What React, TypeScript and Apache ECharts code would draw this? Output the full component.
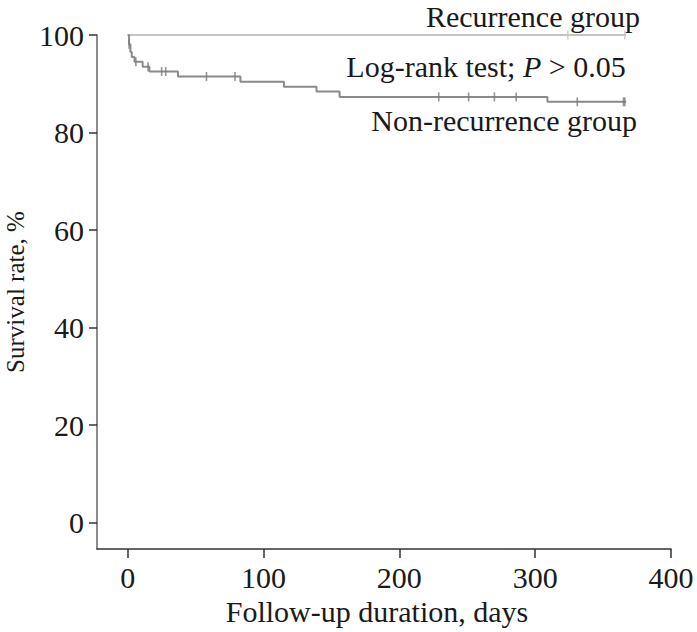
import React, { useEffect, useRef } from "react";
import * as echarts from "echarts";

// Non-recurrence group: event times (days) and survival (%) after each drop
const nonRecTimes = [0, 1, 2, 3, 5, 11, 16, 37, 83, 115, 139, 156, 309];
const nonRecSurv = [100, 98.1, 96.5, 95.5, 94.5, 93.5, 92.5, 91.5, 90.4, 89.4, 88.4, 87.3, 86.3];
const nonRecEnd = 367;
const nonRecCensor = [1, 6, 15, 25, 28, 58, 79, 229, 251, 270, 286, 331, 365, 366];

// Recurrence group
const recTimes = [0];
const recSurv = [100];
const recEnd = 367;
const recCensor = [324, 366];

const xTicks = [0, 100, 200, 300, 400];
const yTicks = [0, 20, 40, 60, 80, 100];

function kmPath(times: number[], surv: number[], end: number) {
  const pts: number[][] = [];
  for (let i = 0; i < times.length; i++) {
    if (i > 0) pts.push([times[i], surv[i - 1]]);
    pts.push([times[i], surv[i]]);
  }
  pts.push([end, surv[surv.length - 1]]);
  return pts;
}

function survAt(times: number[], surv: number[], t: number) {
  let s = surv[0];
  for (let i = 0; i < times.length; i++) if (times[i] <= t) s = surv[i];
  return s;
}

const FONT = "'Liberation Serif', 'Times New Roman', serif";
const FS = 30;

export default function App() {
  const ref = useRef<HTMLDivElement>(null);
  useEffect(() => {
    if (!ref.current) return;
    const chart = echarts.init(ref.current, undefined, { renderer: "svg" });
    const nonRecColor = "#8a8a8a";
    const recColor = "#c4c4c4";
    chart.setOption({
      animation: false,
      backgroundColor: "#ffffff",
      grid: {
        left: 97,
        right: 26,
        top: 35,
        bottom: 83,
        containLabel: false,
        outerBoundsMode: "none",
      },
      xAxis: {
        type: "value",
        min: -22.6,
        max: 400,
        name: "Follow-up duration, days",
        nameLocation: "middle",
        nameGap: 45,
        nameTextStyle: { fontFamily: FONT, fontSize: FS, color: "#1a1a1a", padding: [0, 14, 0, 0] },
        axisLine: { show: true, onZero: false, lineStyle: { color: "#333", width: 1.5 } },
        axisTick: { show: true, length: 9, customValues: xTicks, lineStyle: { color: "#333", width: 1.5 } },
        axisLabel: { customValues: xTicks, fontFamily: FONT, fontSize: FS, color: "#1a1a1a", margin: 13 },
        splitLine: { show: false },
      },
      yAxis: {
        type: "value",
        min: -5.4,
        max: 100,
        name: "Survival rate, %",
        nameLocation: "middle",
        nameGap: 69,
        nameTextStyle: { fontFamily: FONT, fontSize: 25, color: "#1a1a1a" },
        axisLine: { show: true, onZero: false, lineStyle: { color: "#666", width: 1.5 } },
        axisTick: { show: true, length: 8, customValues: yTicks, lineStyle: { color: "#333", width: 1.5 } },
        axisLabel: { customValues: yTicks, fontFamily: FONT, fontSize: FS, color: "#1a1a1a", margin: 13 },
        splitLine: { show: false },
      },
      series: [
        {
          type: "line",
          data: kmPath(recTimes, recSurv, recEnd),
          symbol: "none",
          lineStyle: { color: recColor, width: 2 },
          z: 2,
        },
        {
          type: "line",
          data: kmPath(nonRecTimes, nonRecSurv, nonRecEnd),
          symbol: "none",
          lineStyle: { color: nonRecColor, width: 2 },
          z: 3,
        },
        {
          type: "scatter",
          data: recCensor.map((t) => [t, survAt(recTimes, recSurv, t)]),
          symbol: "rect",
          symbolSize: [1.6, 9],
          itemStyle: { color: recColor },
          z: 4,
        },
        {
          type: "scatter",
          data: nonRecCensor.map((t) => [t, survAt(nonRecTimes, nonRecSurv, t)]),
          symbol: "rect",
          symbolSize: [1.6, 9],
          itemStyle: { color: "#7a7a7a" },
          z: 4,
        },
      ],
      graphic: [
        {
          type: "text",
          x: 640,
          y: 16,
          style: {
            text: "Recurrence group",
            fontFamily: FONT,
            fontSize: FS,
            fill: "#1a1a1a",
            align: "right",
            verticalAlign: "middle",
          },
        },
        {
          type: "text",
          x: 486,
          y: 66,
          style: {
            text: "Log-rank test; {i|P} > 0.05",
            fontFamily: FONT,
            fontSize: FS,
            fill: "#1a1a1a",
            align: "center",
            verticalAlign: "middle",
            rich: { i: { fontStyle: "italic", fontFamily: FONT, fontSize: FS, fill: "#1a1a1a" } },
          },
        },
        {
          type: "text",
          x: 637,
          y: 120,
          style: {
            text: "Non-recurrence group",
            fontFamily: FONT,
            fontSize: FS,
            fill: "#1a1a1a",
            align: "right",
            verticalAlign: "middle",
          },
        },
      ],
    });
    return () => chart.dispose();
  }, []);
  return (
    <div
      ref={ref}
      style={{ position: "absolute", left: 0, top: 0, width: 697, height: 632 }}
    />
  );
}
